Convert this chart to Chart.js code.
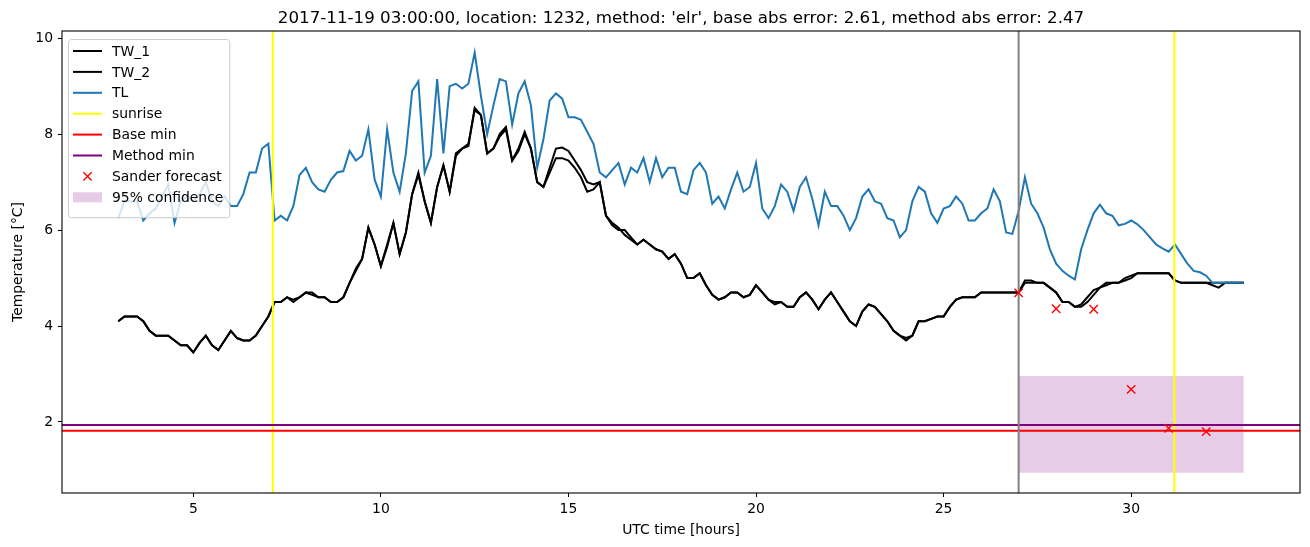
<!DOCTYPE html>
<html>
<head>
<meta charset="utf-8">
<script src="https://cdn.jsdelivr.net/npm/chart.js@4.4.0/dist/chart.umd.min.js"></script>
<style>
  html, body { margin: 0; padding: 0; background: #fff; }
  #wrap { width: 1310px; height: 547px; }
</style>
</head>
<body>
<div id="wrap"><canvas id="temp-chart" width="1310" height="547"></canvas></div>
<script>
// series sampled every 10 minutes from 03:00 (hours since day start, UTC)
const startHour = 3;
const stepHours = 1 / 6;

const tw1 = [
  4.1,4.2,4.2,4.2,4.1,3.9, 3.8,3.8,3.8,3.7,3.6,3.6, 3.45,3.65,3.8,3.6,3.5,3.7, 3.9,3.75,3.7,3.7,3.8,4.0, 4.2,4.5,4.5,4.6,4.5,4.6, 4.7,4.7,4.6,4.6,4.5,4.5,
  4.6,4.9,5.2,5.4,6.05,5.7, 5.25,5.7,6.15,5.5,5.95,6.75, 7.2,6.6,6.15,6.9,7.35,6.8, 7.6,7.7,7.8,8.5,8.4,7.6, 7.7,8.0,8.15,7.45,7.7,8.05, 7.7,7.0,6.9,7.3,7.7,7.72,
  7.65,7.45,7.25,7.0,6.95,7.0, 6.3,6.1,6.0,6.0,5.85,5.7, 5.8,5.7,5.6,5.55,5.4,5.5, 5.3,5.0,5.0,5.1,4.85,4.65, 4.55,4.6,4.7,4.7,4.6,4.65, 4.85,4.7,4.55,4.5,4.5,4.4,
  4.4,4.6,4.7,4.55,4.35,4.55, 4.7,4.5,4.3,4.1,4.0,4.3, 4.45,4.4,4.25,4.1,3.9,3.8, 3.75,3.8,4.1,4.1,4.15,4.2, 4.2,4.4,4.55,4.6,4.6,4.6, 4.7,4.7,4.7,4.7,4.7,4.7,
  4.7,4.95,4.95,4.9,4.9,4.8, 4.7,4.5,4.5,4.4,4.45,4.6, 4.75,4.8,4.9,4.9,4.9,5.0, 5.05,5.1,5.1,5.1,5.1,5.1, 5.1,4.95,4.9,4.9,4.9,4.9, 4.9,4.9,4.9,4.9,4.9,4.9, 4.9
];
const tw2 = [
  4.1,4.2,4.2,4.2,4.1,3.9, 3.8,3.8,3.8,3.7,3.6,3.6, 3.45,3.65,3.8,3.6,3.5,3.7, 3.9,3.75,3.7,3.7,3.8,4.0, 4.2,4.5,4.5,4.6,4.55,4.6, 4.7,4.65,4.6,4.6,4.5,4.5,
  4.6,4.9,5.15,5.4,6.05,5.7, 5.25,5.65,6.15,5.5,5.95,6.75, 7.15,6.6,6.15,6.9,7.35,6.8, 7.55,7.7,7.75,8.55,8.4,7.6, 7.7,7.95,8.1,7.45,7.65,8.0, 7.7,7.0,6.9,7.2,7.5,7.5,
  7.45,7.3,7.1,6.8,6.85,7.0, 6.3,6.15,6.05,5.9,5.8,5.7, 5.8,5.7,5.6,5.55,5.4,5.5, 5.3,5.0,5.0,5.1,4.85,4.65, 4.55,4.6,4.7,4.7,4.6,4.65, 4.85,4.7,4.55,4.45,4.5,4.4,
  4.4,4.6,4.7,4.55,4.35,4.55, 4.7,4.5,4.3,4.1,4.0,4.3, 4.45,4.4,4.25,4.1,3.9,3.8, 3.7,3.8,4.1,4.1,4.15,4.2, 4.2,4.4,4.55,4.6,4.6,4.6, 4.7,4.7,4.7,4.7,4.7,4.7,
  4.7,4.9,4.9,4.9,4.9,4.8, 4.7,4.5,4.5,4.4,4.4,4.5, 4.65,4.8,4.85,4.9,4.9,4.95, 5.0,5.1,5.1,5.1,5.1,5.1, 5.1,4.95,4.9,4.9,4.9,4.9, 4.9,4.85,4.8,4.9,4.9,4.9, 4.9
];
const tl = [
  6.25,6.6,6.6,6.6,6.2,6.35, 6.45,6.7,6.95,6.15,6.6,6.7, 6.6,6.75,7.0,6.6,6.5,6.7, 6.5,6.5,6.75,7.2,7.2,7.7, 7.8,6.2,6.3,6.2,6.5,7.15, 7.3,7.0,6.85,6.8,7.05,7.2,
  7.23,7.65,7.45,7.55,8.1,7.05, 6.7,8.1,7.2,6.8,7.6,8.9, 9.1,7.2,7.55,9.15,7.6,9.0, 9.05,8.95,9.05,9.7,8.8,8.0, 8.6,9.15,9.1,8.2,8.85,9.1, 8.6,7.3,7.9,8.7,8.85,8.74,
  8.35,8.35,8.3,8.05,7.8,7.2, 7.1,7.25,7.4,6.95,7.3,7.2, 7.5,7.0,7.5,7.1,7.3,7.3, 6.8,6.75,7.25,7.4,7.2,6.55, 6.7,6.45,6.85,7.2,6.8,6.9, 7.4,6.45,6.25,6.5,6.95,6.8,
  6.4,6.9,7.1,6.65,6.1,6.8, 6.5,6.5,6.3,6.0,6.25,6.7, 6.85,6.6,6.55,6.25,6.2,5.85, 6.0,6.6,6.9,6.8,6.35,6.15, 6.45,6.5,6.7,6.55,6.2,6.2, 6.35,6.45,6.85,6.6,5.95,5.92,
  6.4,7.1,6.55,6.35,6.05,5.6, 5.3,5.15,5.05,4.97,5.6,6.0, 6.35,6.53,6.35,6.3,6.1,6.13, 6.2,6.12,6.0,5.85,5.7,5.62, 5.55,5.7,5.5,5.3,5.15,5.12, 5.05,4.9,4.9,4.9,4.9,4.9, 4.9
];

const sunriseHours = [7.12, 31.15];
const forecastStart = 27;
const baseMin = 1.82;
const methodMin = 1.94;

const sanderHours = [27, 28, 29, 30, 31, 32];
const sanderValues = [4.69, 4.36, 4.35, 2.68, 1.87, 1.80];

const confStart = 27;
const confEnd = 33;
const confLow = 0.94;
const confHigh = 2.96;

const xTicks = [5, 10, 15, 20, 25, 30];
const yTicks = [2, 4, 6, 8, 10];
const xMin = 1.5, xMax = 34.5;
const yMin = 0.52, yMax = 10.15;

const titleText = "2017-11-19 03:00:00, location: 1232, method: 'elr', base abs error: 2.61, method abs error: 2.47";
const fontFamily = "'DejaVu Sans', sans-serif";

const times = tw1.map((_, i) => startHour + i * stepHours);
const toPoints = arr => arr.map((v, i) => ({x: times[i], y: v}));

function verticalLines(hours) {
    let pts = [];
    hours.forEach((h, i) => {
        if (i > 0) pts.push({x: h, y: null});
        pts.push({x: h, y: yMin});
        pts.push({x: h, y: yMax});
    });
    return pts;
}

const lineBase = {pointRadius: 0, borderWidth: 2, tension: 0, fill: false};

const datasets = [
    Object.assign({label: 'TW_1', data: toPoints(tw1), borderColor: '#000000', order: 9}, lineBase),
    Object.assign({label: 'TW_2', data: toPoints(tw2), borderColor: '#000000', order: 8}, lineBase),
    Object.assign({label: 'TL', data: toPoints(tl), borderColor: '#1f77b4', order: 7}, lineBase),
    Object.assign({label: 'sunrise', data: verticalLines(sunriseHours), borderColor: '#ffff00', spanGaps: false, order: 6}, lineBase),
    Object.assign({label: 'Base min', data: [{x: xMin, y: baseMin}, {x: xMax, y: baseMin}], borderColor: '#ff0000', order: 5}, lineBase),
    Object.assign({label: 'Method min', data: [{x: xMin, y: methodMin}, {x: xMax, y: methodMin}], borderColor: '#800080', order: 4}, lineBase),
    {
        label: 'Sander forecast',
        data: sanderHours.map((h, i) => ({x: h, y: sanderValues[i]})),
        showLine: false,
        pointStyle: 'crossRot',
        pointRadius: 5.9,
        pointBorderWidth: 1.4,
        borderColor: '#ff0000',
        backgroundColor: '#ff0000',
        order: 1
    },
    {
        label: '95% confidence',
        data: [{x: confStart, y: confHigh}, {x: confEnd, y: confHigh}],
        fill: {value: confLow},
        backgroundColor: 'rgba(128,0,128,0.2)',
        borderColor: 'rgba(0,0,0,0)',
        borderWidth: 0,
        pointRadius: 0,
        order: 20
    },
    Object.assign({label: '', data: verticalLines([forecastStart]), borderColor: '#808080', order: 3}, lineBase)
];

// frame, title and matplotlib-like legend
const decorPlugin = {
    id: 'decor',
    afterDraw(chart) {
        const ctx = chart.ctx;
        const a = chart.chartArea;
        ctx.save();
        ctx.strokeStyle = '#000';
        ctx.lineWidth = 1.1;
        ctx.strokeRect(a.left, a.top, a.right - a.left, a.bottom - a.top);

        ctx.fillStyle = '#000';
        ctx.font = '16.7px ' + fontFamily;
        ctx.textAlign = 'center';
        ctx.textBaseline = 'alphabetic';
        ctx.fillText(titleText, (a.left + a.right) / 2, a.top - 8.3);

        // legend
        const items = chart.data.datasets.filter(d => d.label);
        ctx.font = '13.9px ' + fontFamily;
        let maxW = 0;
        items.forEach(d => { maxW = Math.max(maxW, ctx.measureText(d.label).width); });
        const bx = a.left + 6, by = a.top + 8;
        const rowH = 20.9;
        const bw = 44 + maxW + 6, bh = 16 + rowH * items.length - 5;
        ctx.beginPath();
        ctx.roundRect(bx + 0.5, by + 0.5, bw, bh, 3);
        ctx.fillStyle = 'rgba(255,255,255,0.8)';
        ctx.fill();
        ctx.strokeStyle = '#cccccc';
        ctx.lineWidth = 1;
        ctx.stroke();

        items.forEach((d, i) => {
            const cy = by + 12 + rowH * i;
            const x0 = bx + 5, x1 = bx + 34;
            if (d.showLine === false) {
                const r = 4.17;
                const cx = (x0 + x1) / 2;
                ctx.strokeStyle = d.borderColor;
                ctx.lineWidth = 1.4;
                ctx.beginPath();
                ctx.moveTo(cx - r, cy - r); ctx.lineTo(cx + r, cy + r);
                ctx.moveTo(cx - r, cy + r); ctx.lineTo(cx + r, cy - r);
                ctx.stroke();
            } else if (d.fill && d.fill.value !== undefined) {
                ctx.fillStyle = d.backgroundColor;
                ctx.fillRect(x0, cy - 5, x1 - x0, 10);
            } else {
                ctx.strokeStyle = d.borderColor;
                ctx.lineWidth = 2;
                ctx.beginPath();
                ctx.moveTo(x0, cy); ctx.lineTo(x1, cy);
                ctx.stroke();
            }
            ctx.fillStyle = '#000';
            ctx.textAlign = 'left';
            ctx.textBaseline = 'middle';
            ctx.fillText(d.label, bx + 44, cy + 1);
        });
        ctx.restore();
    }
};

const tickFont = {family: fontFamily, size: 13.9};

new Chart('temp-chart', {
    type: 'line',
    data: {datasets: datasets},
    plugins: [decorPlugin],
    options: {
        responsive: false,
        devicePixelRatio: 1,
        animation: false,
        layout: {padding: {top: 31, right: 10, left: 0, bottom: 0}},
        plugins: {
            legend: {display: false},
            title: {display: false},
            tooltip: {enabled: false}
        },
        scales: {
            x: {
                type: 'linear',
                min: xMin,
                max: xMax,
                afterBuildTicks: s => { s.ticks = xTicks.map(v => ({value: v})); },
                afterFit: s => { s.height = 54; },
                grid: {drawOnChartArea: false, drawTicks: true, tickLength: 4, color: '#000'},
                border: {display: false},
                ticks: {color: '#000', font: tickFont, padding: 4, autoSkip: false, maxRotation: 0},
                title: {display: true, text: 'UTC time [hours]', color: '#000', font: tickFont, padding: {top: 0, bottom: 8}}
            },
            y: {
                min: yMin,
                max: yMax,
                afterBuildTicks: s => { s.ticks = yTicks.map(v => ({value: v})); },
                afterFit: s => { s.width = 62; },
                grid: {drawOnChartArea: false, drawTicks: true, tickLength: 4, color: '#000'},
                border: {display: false},
                ticks: {color: '#000', font: tickFont, padding: 5, autoSkip: false},
                title: {display: true, text: 'Temperature [°C]', color: '#000', font: tickFont, padding: {top: 10, bottom: 0}}
            }
        }
    }
});
</script>
</body>
</html>
